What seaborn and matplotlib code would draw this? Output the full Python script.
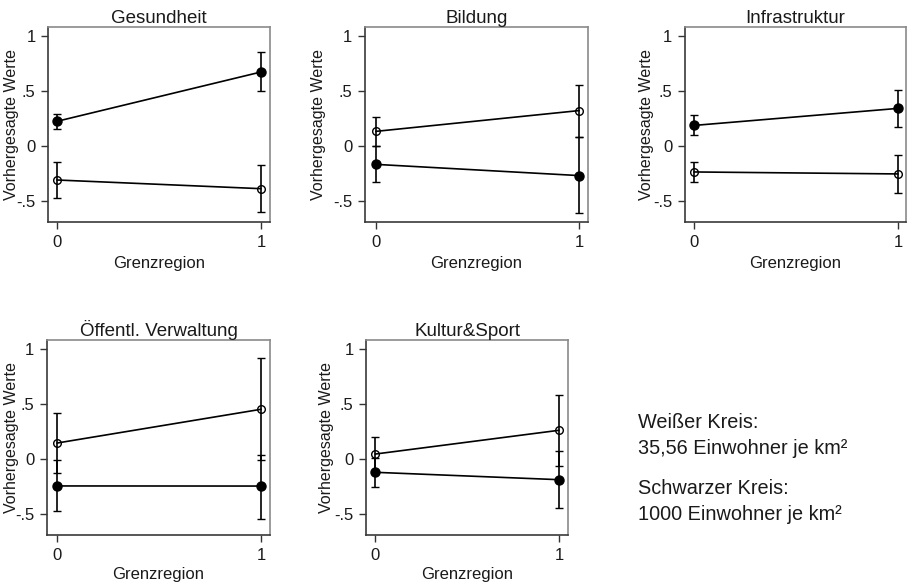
import numpy as np
import pandas as pd
import matplotlib
matplotlib.use("Agg")
import matplotlib.pyplot as plt
import seaborn as sns

# ---------------- data ----------------
panels = ["Gesundheit", "Bildung", "Infrastruktur", "Öffentl. Verwaltung", "Kultur&Sport"]
grenz = [0, 1]

# Weißer Kreis (35,56 Einwohner je km²): estimate, lower CI, upper CI at Grenzregion 0 and 1
weiss_est = [[-0.306, -0.385], [0.136, 0.325], [-0.233, -0.251], [0.148, 0.455], [0.048, 0.264]]
weiss_lo  = [[-0.470, -0.597], [0.000, 0.088], [-0.327, -0.420], [-0.124, -0.006], [-0.107, -0.064]]
weiss_hi  = [[-0.142, -0.166], [0.270, 0.555], [-0.142, -0.078], [0.420, 0.918], [0.203, 0.588]]

# Schwarzer Kreis (1000 Einwohner je km²)
schwarz_est = [[0.227, 0.676], [-0.164, -0.266], [0.190, 0.345], [-0.242, -0.243], [-0.118, -0.185]]
schwarz_lo  = [[0.160, 0.506], [-0.327, -0.605], [0.100, 0.180], [-0.470, -0.540], [-0.252, -0.443]]
schwarz_hi  = [[0.294, 0.855], [0.000, 0.085], [0.285, 0.510], [-0.010, 0.043], [0.016, 0.079]]

yticks = [-0.5, 0, 0.5, 1]
ytick_labels = ["-.5", "0", ".5", "1"]
xtick_labels = ["0", "1"]
ylabel = "Vorhergesagte Werte"
xlabel = "Grenzregion"
note_lines = ["Weißer Kreis:", "35,56 Einwohner je km²", "Schwarzer Kreis:", "1000 Einwohner je km²"]

rows = []
for i, p in enumerate(panels):
    for j, g in enumerate(grenz):
        rows.append(dict(panel=p, grenz=g, kreis="weiss", est=weiss_est[i][j],
                         lo=weiss_lo[i][j], hi=weiss_hi[i][j]))
        rows.append(dict(panel=p, grenz=g, kreis="schwarz", est=schwarz_est[i][j],
                         lo=schwarz_lo[i][j], hi=schwarz_hi[i][j]))
df = pd.DataFrame(rows)

# ---------------- style ----------------
sns.set_theme(style="white")
plt.rcParams["font.family"] = ["Liberation Sans", "DejaVu Sans"]

W, H = 907, 587
fig = plt.figure(figsize=(W / 100, H / 100), dpi=100)

# frame boxes in pixels: left, right, top, bottom
boxes = [
    (48, 270, 27, 222),
    (365, 588, 27, 222),
    (685, 906, 27, 222),
    (47, 270, 340, 535),
    (366, 568, 340, 535),
]
ylabel_x_px = [12, 319, 646, 12, 326]
xlabel_y_px = [263, 263, 263, 575, 575]
xlims = [(-0.043, 1.044), (-0.053, 1.044), (-0.044, 1.039), (-0.049, 1.044), (-0.05, 1.049)]
ylim = (-0.688, 1.085)

for i, p in enumerate(panels):
    l, r, t, b = boxes[i]
    w, h = r - l, b - t
    ax = fig.add_axes([l / W, 1 - b / H, w / W, h / H])
    sub = df[df.panel == p]
    for kreis, mfc in [("weiss", "none"), ("schwarz", "black")]:
        s = sub[sub.kreis == kreis].sort_values("grenz")
        sns.lineplot(data=s, x="grenz", y="est", ax=ax, color="black", lw=1.2,
                     legend=False, zorder=2)
        ax.errorbar(s.grenz, s.est,
                    yerr=[s.est - s.lo, s.hi - s.est],
                    fmt="o", color="black", mfc=mfc, mec="black",
                    ms=6.5 if kreis == "schwarz" else 5.5, mew=1.0,
                    ecolor="black", elinewidth=1.2, capsize=2.6, capthick=1.2, zorder=3)
    ax.set_xlim(*xlims[i])
    ax.set_ylim(*ylim)
    ax.set_xticks(grenz)
    ax.set_xticklabels(xtick_labels)
    ax.set_yticks(yticks)
    ax.set_yticklabels(ytick_labels)
    ax.tick_params(axis="both", which="both", direction="out", length=5, width=1,
                   color="#333333", labelsize=12, labelcolor="#1a1a1a", pad=4,
                   bottom=True, left=True)
    for side in ["top", "right"]:
        ax.spines[side].set_color("#8a8a8a")
        ax.spines[side].set_linewidth(1.2)
    for side in ["left", "bottom"]:
        ax.spines[side].set_color("#3a3a3a")
        ax.spines[side].set_linewidth(1.2)
    ax.set_xlabel(xlabel, fontsize=12, color="#1a1a1a", va="center")
    ax.xaxis.set_label_coords(0.5, -(xlabel_y_px[i] - b) / h)
    ax.set_ylabel(ylabel, fontsize=11.5, color="#1a1a1a", va="center", ha="center")
    ax.yaxis.set_label_coords((ylabel_x_px[i] - l) / w, 0.5)
    ax.set_title(p, fontsize=13.5, color="#1a1a1a", pad=3)
    ax.grid(False)

ys = [422, 448, 488, 514]
for txt, y in zip(note_lines, ys):
    fig.text(638 / W, 1 - y / H, txt, fontsize=14.3, color="#1a1a1a", va="center", ha="left")

fig.savefig("out.png", dpi=100, facecolor="white")
